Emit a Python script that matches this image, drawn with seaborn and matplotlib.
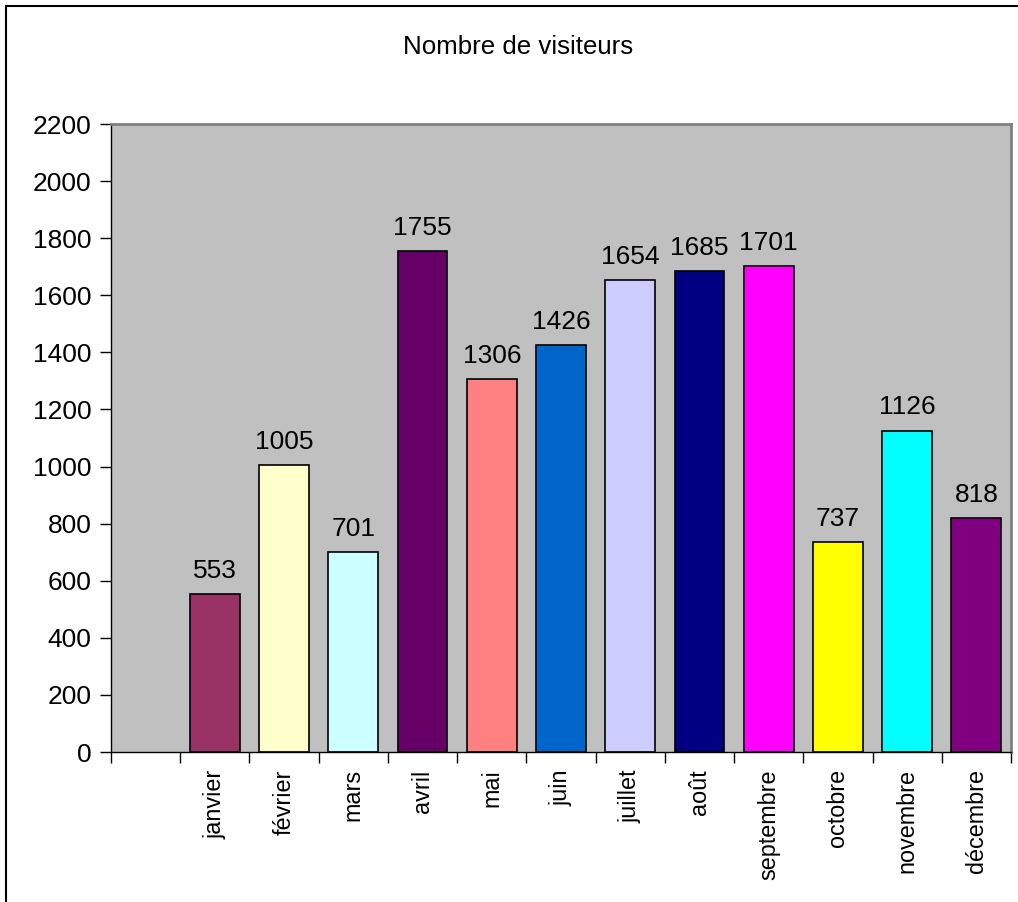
import matplotlib
matplotlib.use("Agg")
import matplotlib.pyplot as plt
import seaborn as sns
import pandas as pd
from matplotlib.patches import Rectangle
from matplotlib.ticker import FixedLocator

months = ["janvier", "février", "mars", "avril", "mai", "juin", "juillet",
          "août", "septembre", "octobre", "novembre", "décembre"]
visitors = [553, 1005, 701, 1755, 1306, 1426, 1654, 1685, 1701, 737, 1126, 818]
colors = ["#993366", "#FFFFCC", "#CCFFFF", "#660066", "#FF8080", "#0066CC",
          "#CCCCFF", "#000080", "#FF00FF", "#FFFF00", "#00FFFF", "#800080"]
title = "Nombre de visiteurs"
yticks = list(range(0, 2201, 200))

sns.set_theme(style="white")
plt.rcParams["font.family"] = ["Liberation Sans", "DejaVu Sans"]

df = pd.DataFrame({"mois": months, "visiteurs": visitors})

fig = plt.figure(figsize=(10.18, 9.02), dpi=100)
ax = fig.add_axes([111/1018, 1-752/902, 900/1018, (752-124)/902])
ax.set_facecolor("#C0C0C0")

sns.barplot(data=df, x="mois", y="visiteurs", hue="mois", palette=colors,
            order=months, hue_order=months, legend=False, width=0.72,
            edgecolor="black", linewidth=1.2, saturation=1, ax=ax)

for c in ax.containers:
    ax.bar_label(c, fontsize=19, padding=8, color="black")

ax.set_xlim(-1.5, 11.5)
ax.set_ylim(0, 2200)
ax.set_yticks(yticks)
ax.set_xlabel("")
ax.set_ylabel("")
ax.set_xticks(range(len(months)))
ax.set_xticklabels(months, rotation=90, fontsize=16.8, va="top")
ax.tick_params(axis="x", which="major", length=0, pad=12.5, colors="black")
ax.xaxis.set_minor_locator(FixedLocator([i - 0.5 for i in range(-1, 13)]))
ax.tick_params(axis="x", which="minor", length=8, width=1, color="black",
               direction="out", bottom=True)
ax.tick_params(axis="y", length=8, width=1, color="black", direction="out",
               left=True, labelsize=19, pad=6, labelcolor="black")

for side in ["left", "bottom"]:
    ax.spines[side].set_color("black")
    ax.spines[side].set_linewidth(1)
for side in ["top", "right"]:
    ax.spines[side].set_color("#808080")
    ax.spines[side].set_linewidth(2)
    ax.spines[side].set_visible(True)

fig.text(518/1018, 1-47/902, title, ha="center", va="center", fontsize=18.6,
         color="black")

fig.add_artist(Rectangle((6/1018, -0.1), 1.2, 1.1 - 6/902,
                         transform=fig.transFigure, fill=False,
                         edgecolor="black", linewidth=1.5, clip_on=False))

fig.savefig("out.png", dpi=100, facecolor="white")
